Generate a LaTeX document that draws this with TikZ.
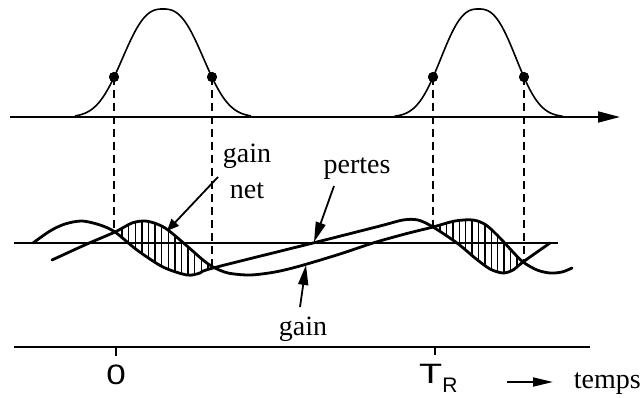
\documentclass[tikz,border=0pt]{standalone}
\usepackage{fontspec}
\setmainfont{Liberation Serif}
\setsansfont{Liberation Sans}
\usetikzlibrary{arrows.meta}
\begin{document}
\begin{tikzpicture}[x=1pt,y=-1pt,
  curve/.style={line width=2.8pt, line cap=round, line join=round},
  pulse/.style={line width=1.6pt},
  axisline/.style={line width=1.8pt},
  thresh/.style={line width=1.3pt},
  guide/.style={line width=1.5pt, dash pattern=on 8pt off 5pt},
  hatch/.style={line width=1.4pt},
  dot/.style={circle, fill=black, inner sep=0pt, minimum size=10pt},
  lbl/.style={inner sep=0pt, font=\fontsize{28}{34}\selectfont},
  slbl/.style={inner sep=0pt, font=\sffamily\fontsize{28}{34}\selectfont},
  bigptr/.style={line width=1.8pt, -{Triangle[length=20pt,width=10pt]}},
  smallptr/.style={line width=1.8pt, -{Triangle[length=12pt,width=10pt]}},
]
\useasboundingbox (0,0) rectangle (644,398);

\def\curveA{plot[smooth] coordinates {(52,260) (87,244) (115,232) (132,223) (145,221) (157,224) (168,230) (187,246) (203,260) (213,267) (228,273) (250,275) (275,272) (300,266) (340,254) (373,243) (405,234) (433,227) (455,221) (473,220) (486,225) (500,238) (512,251) (523,262) (537,270) (550,273) (562,272) (572,268)}}
\def\curveB{plot[smooth] coordinates {(33,243) (50,231) (65,224) (82,221) (100,225) (115,232) (137,250) (163,267) (187,275) (200,273) (213,268) (313,243) (380,226) (403,220) (418,220) (433,227) (457,243) (475,258) (490,269) (503,273) (513,270) (523,262) (550,243)}}

% top axis with pulses
\coordinate (ax1) at (10,117);
\coordinate (ax2) at (620,117);
\draw[axisline, -{Triangle[length=22pt,width=11pt]}] (ax1) -- (ax2);
\draw[pulse] plot[domain=-88:88, samples=100, smooth] ({163+\x}, {117-108*exp(-1*pow(abs(\x)/49+0.0001,2.6))});
\draw[pulse] plot[domain=-84:84, samples=100, smooth] ({478.5+\x}, {117-108*exp(-1*pow(abs(\x)/45.5+0.0001,2.6))});

% crossing points
\coordinate (c1) at (114,232);
\coordinate (c2) at (212,268);
\coordinate (c3) at (433,227);
\coordinate (c4) at (524,262);

% dots and dashed guides
\node[dot] (d1) at (114,77) {};
\node[dot] (d2) at (212,77) {};
\node[dot] (d3) at (433,77) {};
\node[dot] (d4) at (524,77) {};
\draw[guide] (d1.center) -- (c1);
\draw[guide] (d2.center) -- (c2);
\draw[guide] (d3.center) -- (c3);
\draw[guide] (d4.center) -- (c4);
\foreach \d in {d1,d2,d3,d4} { \fill (\d) circle (5pt); }

% threshold
\coordinate (th1) at (14,243);
\coordinate (th2) at (558,243);
\draw[thresh] (th1) -- (th2);

% hatch
\begin{scope}
  \clip \curveA -- (572,400) -- (52,400) -- cycle;
  \clip \curveB -- (550,0) -- (33,0) -- cycle;
  \foreach \x in {122,128.6,...,214} { \draw[hatch] (\x,200) -- (\x,290); }
  \foreach \x in {440,446.4,...,525} { \draw[hatch] (\x,200) -- (\x,290); }
\end{scope}

% curves
\draw[curve] \curveA;
\draw[curve] \curveB;

% labels
\node[lbl, anchor=base] (gn1) at (247,162) {gain};
\node[lbl, anchor=base] (gn2) at (247,198) {net};
\node[lbl, anchor=base] (pertes) at (357,173) {pertes};
\node[lbl, anchor=base] (gainlbl) at (303,335) {gain};
\node[lbl, anchor=base east] (temps) at (641,388) {temps};

\coordinate (gnTail) at (218,177);
\coordinate (gnTip) at (167,231);
\draw[smallptr] (gnTail) -- (gnTip);
\coordinate (pTail) at (334,186);
\coordinate (pTip) at (314,242);
\draw[bigptr] (pTail) -- (pTip);
\coordinate (gTail) at (300,307);
\coordinate (gTip) at (306,265);
\draw[bigptr] (gTail) -- (gTip);

% bottom axis
\coordinate (bx1) at (14,347);
\coordinate (bx2) at (590,347);
\draw[axisline] (bx1) -- (bx2);
\coordinate (t0) at (116,347);
\coordinate (tR) at (435,347);
\draw[thresh] (t0) -- ++(0,9);
\draw[thresh] (tR) -- ++(0,8);
\node[slbl, anchor=base] (zero) at (116,384) {\scalebox{1.25}[1]{0}};
\node[slbl, anchor=base west] (TR) at (419,383) {\scalebox{1.35}[1]{T}\raisebox{-9pt}{\fontsize{21}{24}\selectfont R}};
\coordinate (tmA) at (507,382);
\coordinate (tmB) at (553,382);
\draw[line width=1.8pt, -{Triangle[length=20pt,width=9pt]}] (tmA) -- (tmB);
\end{tikzpicture}
\end{document}
